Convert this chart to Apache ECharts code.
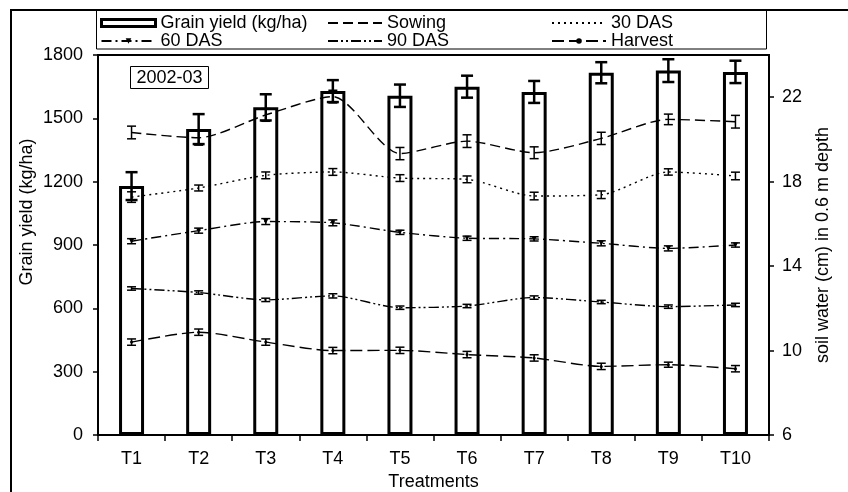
<!DOCTYPE html>
<html>
<head>
<meta charset="utf-8">
<script src="https://cdn.jsdelivr.net/npm/echarts@6/dist/echarts.min.js"></script>
<style>
html,body{margin:0;padding:0;background:#fff;}
#chart{width:848px;height:492px;}
</style>
</head>
<body>
<div id="chart"></div>
<script>
// ---- data ----
const categories = ['T1','T2','T3','T4','T5','T6','T7','T8','T9','T10'];
const grainYield = [1179, 1449, 1552, 1629, 1607, 1650, 1625, 1716, 1726, 1720];
const grainYieldErr = [66, 71, 62, 52, 53, 52, 52, 50, 54, 53];
const sowing = [20.33, 20.08, 21.16, 22.03, 19.33, 19.92, 19.37, 20.05, 20.95, 20.84];
const sowingErr = [0.30, 0.35, 0.30, 0.30, 0.29, 0.30, 0.28, 0.29, 0.25, 0.30];
const das30 = [17.27, 17.70, 18.30, 18.46, 18.17, 18.11, 17.32, 17.38, 18.46, 18.27];
const das30Err = [0.25, 0.14, 0.16, 0.16, 0.16, 0.16, 0.18, 0.18, 0.15, 0.18];
const das60 = [15.18, 15.68, 16.11, 16.05, 15.60, 15.32, 15.29, 15.08, 14.84, 15.00];
const das60Err = [0.12, 0.12, 0.14, 0.14, 0.10, 0.10, 0.10, 0.12, 0.12, 0.10];
const das90 = [12.94, 12.75, 12.40, 12.59, 12.03, 12.11, 12.51, 12.30, 12.08, 12.16];
const das90Err = [0.08, 0.08, 0.08, 0.10, 0.08, 0.08, 0.08, 0.08, 0.08, 0.08];
const harvest = [10.40, 10.87, 10.40, 10.00, 10.01, 9.81, 9.65, 9.25, 9.33, 9.14];
const harvestErr = [0.15, 0.15, 0.15, 0.15, 0.15, 0.15, 0.15, 0.15, 0.12, 0.15];
const leftTicks = [0, 300, 600, 900, 1200, 1500, 1800];
const rightTicks = [6, 10, 14, 18, 22];
const seriesNames = ['Grain yield (kg/ha)', 'Sowing', '30 DAS', '60 DAS', '90 DAS', 'Harvest'];
const panelLabel = '2002-03';

// ---- chart ----
const FONT = 'Liberation Sans, Arial, sans-serif';
const chart = echarts.init(document.getElementById('chart'), null, {renderer: 'canvas'});

function errRender(capW, lw) {
  return function (params, api) {
    const x = api.value(0), v = api.value(1), e = api.value(2);
    const top = api.coord([x, v + e]);
    const bot = api.coord([x, v - e]);
    const cx = top[0];
    const st = {stroke: '#000', lineWidth: lw, fill: null};
    return {
      type: 'group',
      children: [
        {type: 'line', shape: {x1: cx, y1: top[1], x2: cx, y2: bot[1]}, style: st},
        {type: 'line', shape: {x1: cx - capW / 2, y1: top[1], x2: cx + capW / 2, y2: top[1]}, style: st},
        {type: 'line', shape: {x1: cx - capW / 2, y1: bot[1], x2: cx + capW / 2, y2: bot[1]}, style: st}
      ]
    };
  };
}
function errData(vals, errs) {
  return vals.map((v, i) => [i, v, errs[i]]);
}

const lineDefs = [
  {name: seriesNames[1], data: sowing, err: sowingErr, dash: [10, 5], symbol: 'none'},
  {name: seriesNames[2], data: das30, err: das30Err, dash: [2, 4], symbol: 'none'},
  {name: seriesNames[3], data: das60, err: das60Err, dash: [10, 4, 2, 4], symbol: 'triangle'},
  {name: seriesNames[4], data: das90, err: das90Err, dash: [10, 3, 2, 3, 2, 3], symbol: 'none'},
  {name: seriesNames[5], data: harvest, err: harvestErr, dash: [12, 5], symbol: 'circle'}
];

const series = [{
  name: seriesNames[0],
  type: 'bar',
  yAxisIndex: 0,
  data: grainYield,
  barWidth: 25,
  itemStyle: {color: '#fff', borderColor: '#000', borderWidth: 3},
  z: 2
}, {
  type: 'custom',
  yAxisIndex: 0,
  renderItem: errRender(12, 2.5),
  data: errData(grainYield, grainYieldErr),
  encode: {x: 0, y: 1},
  z: 6,
  silent: true
}];
lineDefs.forEach(d => {
  series.push({
    name: d.name,
    type: 'line',
    yAxisIndex: 1,
    data: d.data,
    smooth: 0.25,
    symbol: d.symbol,
    symbolSize: d.symbol === 'triangle' ? 5 : 3,
    symbolRotate: d.symbol === 'triangle' ? 180 : 0,
    itemStyle: {color: '#000'},
    lineStyle: {color: '#000', width: 1.4, type: d.dash},
    z: 4
  });
  series.push({
    type: 'custom',
    yAxisIndex: 1,
    renderItem: errRender(9, 1.5),
    data: errData(d.data, d.err),
    encode: {x: 0, y: 1},
    z: 6,
    silent: true
  });
});

const hiddenMarker = {color: 'rgba(0,0,0,0)', borderColor: 'rgba(0,0,0,0)', borderWidth: 0};
const smallMarker = {color: '#000', borderColor: '#000', borderWidth: 0};
function lineItem(name) {
  const def = lineDefs.find(d => d.name === name);
  return {name: name, itemStyle: def.symbol === 'none' ? hiddenMarker : smallMarker};
}

const legendBase = {
  orient: 'vertical', top: 14, itemGap: 0, padding: 0,
  itemWidth: 54, itemHeight: 7,
  textStyle: {fontSize: 18, color: '#000', fontFamily: FONT},
  selectedMode: false
};

const option = {
  animation: false,
  backgroundColor: '#fff',
  textStyle: {fontFamily: FONT},
  grid: {left: 98, right: 79, top: 55, bottom: 57, show: true, borderColor: '#000', borderWidth: 2, outerBoundsMode: 'none'},
  legend: [
    Object.assign({}, legendBase, {left: 100, data: [
      {name: seriesNames[0], icon: 'rect', itemStyle: {color: '#fff', borderColor: '#000', borderWidth: 3}},
      lineItem(seriesNames[3])]}),
    Object.assign({}, legendBase, {left: 327, data: [lineItem(seriesNames[1]), lineItem(seriesNames[4])]}),
    Object.assign({}, legendBase, {left: 551, data: [lineItem(seriesNames[2]), lineItem(seriesNames[5])]})
  ],
  xAxis: {
    type: 'category',
    data: categories,
    boundaryGap: true,
    name: 'Treatments',
    nameLocation: 'middle',
    nameGap: 36,
    nameTextStyle: {fontSize: 18, color: '#000', fontFamily: FONT},
    axisLine: {lineStyle: {color: '#000', width: 2}},
    axisTick: {show: true, inside: false, length: 6, interval: 0, lineStyle: {color: '#000', width: 1.5}},
    axisLabel: {fontSize: 18, color: '#000', margin: 15, interval: 0, fontFamily: FONT},
    splitLine: {show: false}
  },
  yAxis: [{
    type: 'value',
    min: 0, max: 1800, interval: 300,
    position: 'left',
    axisLine: {show: true, lineStyle: {color: '#000', width: 2}},
    axisTick: {show: true, inside: false, length: 5, lineStyle: {color: '#000', width: 1.5}},
    axisLabel: {fontSize: 18, color: '#000', margin: 15, fontFamily: FONT,
      customValues: leftTicks, formatter: v => String(v)},
    splitLine: {show: false}
  }, {
    type: 'value',
    min: 6, max: 24,
    position: 'right',
    name: 'soil water (cm) in 0.6 m depth',
    nameLocation: 'middle',
    nameRotate: 90,
    nameGap: 45,
    nameTextStyle: {fontSize: 18, color: '#000', fontFamily: FONT},
    axisLine: {show: true, lineStyle: {color: '#000', width: 2}},
    axisTick: {show: true, inside: false, length: 5, lineStyle: {color: '#000', width: 1.5}, customValues: rightTicks},
    axisLabel: {fontSize: 18, color: '#000', margin: 13, fontFamily: FONT, customValues: rightTicks, formatter: v => String(v)},
    splitLine: {show: false}
  }],
  graphic: [
    {type: 'polyline', shape: {points: [[11, 492], [11, 10], [848, 10]]}, style: {stroke: '#000', lineWidth: 2, fill: null}, z: 10},
    {type: 'rect', shape: {x: 96.5, y: 10.5, width: 670, height: 38.5}, style: {stroke: '#000', lineWidth: 1, fill: null}, z: 10},
    {type: 'rect', shape: {x: 130.5, y: 66.5, width: 78, height: 22}, style: {stroke: '#000', lineWidth: 1, fill: '#fff'}, z: 10},
    {type: 'text', x: 169.5, y: 78, style: {text: panelLabel, fontSize: 18, fontFamily: FONT, fill: '#000',
      textAlign: 'center', textVerticalAlign: 'middle', align: 'center', verticalAlign: 'middle'}, z: 11},
    {type: 'text', x: 27, y: 212, rotation: Math.PI / 2,
      style: {text: 'Grain yield (kg/ha)', fontSize: 18, fontFamily: FONT, fill: '#000',
        textAlign: 'center', textVerticalAlign: 'middle', align: 'center', verticalAlign: 'middle'}, z: 11}
  ],
  series: series
};
chart.setOption(option);
</script>
</body>
</html>
